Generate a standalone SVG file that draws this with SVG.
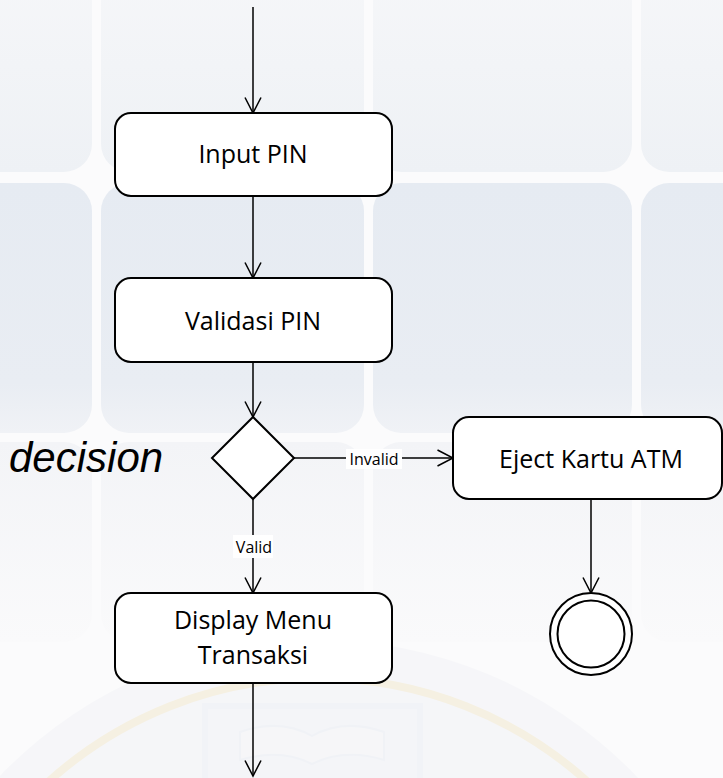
<svg xmlns="http://www.w3.org/2000/svg" width="723" height="778" viewBox="0 0 723 778">
  <defs>
    <style>
      .tile1 { fill: url(#g1); }
      .tile2 { fill: url(#g2); }
      .tile3 { fill: url(#g3); }
      .box { fill: #ffffff; stroke: #000000; stroke-width: 2; }
      .lbl { font-family: "Open Sans", "Noto Sans", sans-serif; font-size: 25px; fill: #000000; text-anchor: middle; }
      .small { font-family: "Open Sans", "Noto Sans", sans-serif; font-size: 16px; fill: #000000; text-anchor: middle; }
      .edge { stroke: #000000; stroke-width: 1.5; fill: none; marker-end: url(#arr); }
      .lblbg { fill: #ffffff; }
    </style>
    <linearGradient id="g1" x1="0" y1="0" x2="0" y2="1">
      <stop offset="0" stop-color="#f6f7f9"/>
      <stop offset="1" stop-color="#eef1f5"/>
    </linearGradient>
    <linearGradient id="g2" x1="0" y1="0" x2="0" y2="1">
      <stop offset="0" stop-color="#e6ebf2"/>
      <stop offset="0.8" stop-color="#e9edf3"/>
      <stop offset="1" stop-color="#f0f2f6"/>
    </linearGradient>
    <linearGradient id="g3" x1="0" y1="0" x2="0" y2="1">
      <stop offset="0" stop-color="#f3f4f7"/>
      <stop offset="1" stop-color="#fafafb"/>
    </linearGradient>
    <marker id="arr" viewBox="0 0 18 18" markerWidth="18" markerHeight="18" refX="16" refY="9" orient="auto" markerUnits="userSpaceOnUse" overflow="visible">
      <path d="M0.5,1 L16,9 L0.5,17" fill="none" stroke="#000000" stroke-width="1.5"/>
    </marker>
  </defs>

  <!-- background -->
  <g id="background">
    <rect x="0" y="0" width="723" height="778" fill="#fbfbfc"/>
    <rect class="tile1" x="-180" y="-40" width="272" height="212" rx="28"/>
    <rect class="tile1" x="101" y="-40" width="263" height="212" rx="28"/>
    <rect class="tile1" x="373" y="-40" width="259" height="212" rx="28"/>
    <rect class="tile1" x="641" y="-40" width="260" height="212" rx="28"/>
    <rect class="tile2" x="-180" y="183" width="272" height="250" rx="28"/>
    <rect class="tile2" x="101" y="183" width="263" height="250" rx="28"/>
    <rect class="tile2" x="373" y="183" width="259" height="250" rx="28"/>
    <rect class="tile2" x="641" y="183" width="260" height="250" rx="28"/>
    <rect class="tile3" x="-180" y="442" width="272" height="200" rx="28"/>
    <rect class="tile3" x="101" y="442" width="263" height="200" rx="28"/>
    <rect class="tile3" x="373" y="442" width="259" height="200" rx="28"/>
    <rect class="tile3" x="641" y="442" width="260" height="200" rx="28"/>
    <!-- faint watermark seal -->
    <g id="watermark" opacity="0.45">
      <circle cx="318" cy="1080" r="440" fill="#f1f2f6"/>
      <circle cx="318" cy="1080" r="402" fill="#eef0f5" stroke="#efe4c3" stroke-width="8"/>
      <path d="M205,706 L420,706 L420,790 Q312,830 205,790 Z" fill="#eceff5" stroke="#e6eaf2" stroke-width="6"/>
      <path d="M240,732 Q280,718 312,736 Q344,718 384,732 L384,760 Q344,748 312,764 Q280,748 240,760 Z" fill="#f1f2f5" stroke="#e4e8f0" stroke-width="2"/>
    </g>
  </g>

  <!-- connectors -->
  <g id="connectors">
    <path class="edge" d="M253,7 V113"/>
    <path class="edge" d="M253,196 V278"/>
    <path class="edge" d="M253,362 V417"/>
    <path class="edge" d="M294,458 H453"/>
    <rect class="lblbg" x="346" y="449" width="56" height="20"/>
    <text class="small" x="374" y="465">Invalid</text>
    <path class="edge" d="M253,499 V593"/>
    <rect class="lblbg" x="233" y="535" width="40" height="23"/>
    <text class="small" x="254" y="552.5">Valid</text>
    <path class="edge" d="M591,499 V593"/>
    <path class="edge" d="M253,683 V776"/>
  </g>

  <!-- nodes -->
  <g id="input-pin">
    <rect class="box" x="115" y="113" width="277" height="83" rx="16"/>
    <text class="lbl" x="253" y="163">Input PIN</text>
  </g>
  <g id="validasi-pin">
    <rect class="box" x="115" y="278" width="277" height="84" rx="16"/>
    <text class="lbl" x="253" y="330">Validasi PIN</text>
  </g>
  <g id="decision-node">
    <polygon points="253,417 294,458 253,499 212,458" fill="#ffffff" stroke="#000000" stroke-width="2"/>
  </g>
  <g id="decision-caption">
    <text x="9" y="472" font-family="'Liberation Sans', Arial, sans-serif" font-size="42" font-style="italic" fill="#000000">decision</text>
  </g>
  <g id="eject-kartu">
    <rect class="box" x="453" y="417" width="269" height="82" rx="16"/>
    <text class="lbl" x="591" y="468">Eject Kartu ATM</text>
  </g>
  <g id="final-node">
    <circle cx="591" cy="634" r="41" fill="#ffffff" stroke="#000000" stroke-width="2"/>
    <circle cx="591" cy="634" r="33.5" fill="#ffffff" stroke="#000000" stroke-width="2"/>
  </g>
  <g id="display-menu">
    <rect class="box" x="115" y="593" width="277" height="90" rx="16"/>
    <text class="lbl" x="253" y="629">Display Menu</text>
    <text class="lbl" x="253" y="664">Transaksi</text>
  </g>
</svg>
